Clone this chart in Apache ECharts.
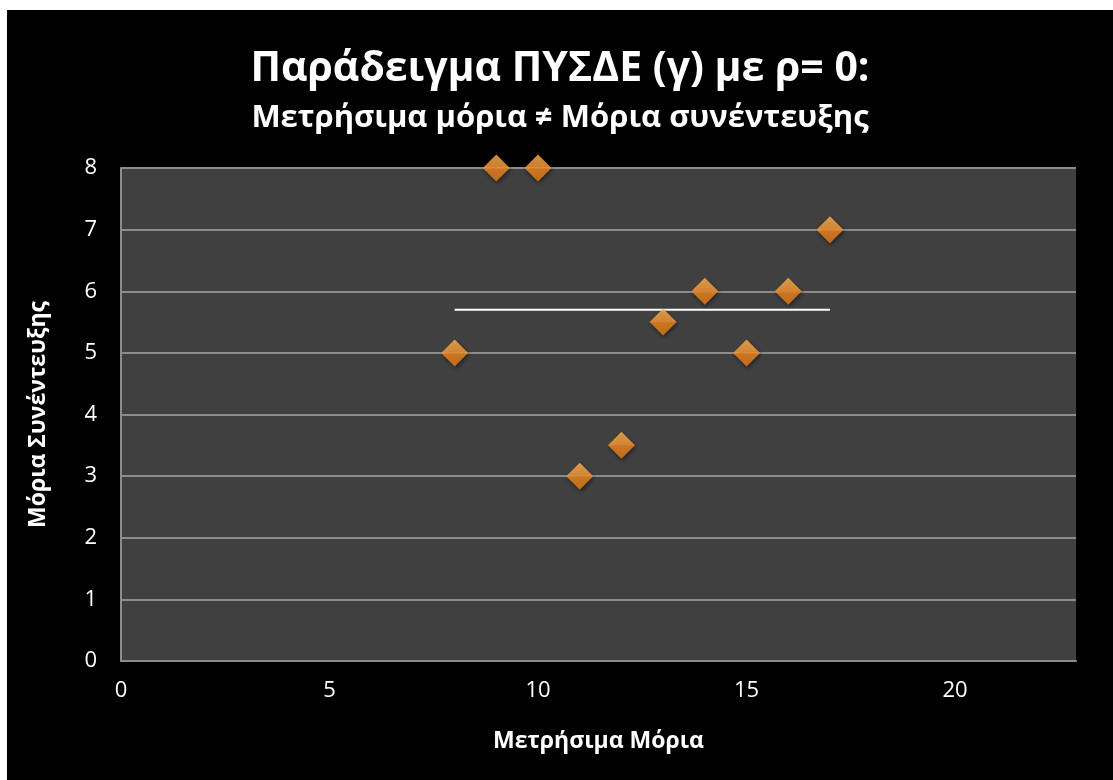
<!DOCTYPE html>
<html>
<head>
<meta charset="utf-8">
<script src="https://cdn.jsdelivr.net/npm/echarts@6/dist/echarts.min.js"></script>
<style>
  html, body { margin: 0; padding: 0; background: #fff; width: 1113px; height: 780px; overflow: hidden; }
  #chart { position: absolute; left: 7px; top: 10px; width: 1106px; height: 770px; }
</style>
</head>
<body>
<div id="chart"></div>
<script>
// measured vs interview points (x, y)
const metrisimaMoria = [8, 9, 10, 11, 12, 13, 14, 15, 16, 17];
const moriaSynenteuxis = [5, 8, 8, 3, 3.5, 5.5, 6, 5, 6, 7];
// flat trend line
const trendLine = [[8, 5.7], [17, 5.7]];
const xTicks = [0, 5, 10, 15, 20];
const yTicks = [0, 1, 2, 3, 4, 5, 6, 7, 8];

const chart = echarts.init(document.getElementById("chart"));
const font = "'Open Sans', 'Noto Sans', sans-serif";

chart.setOption({
    backgroundColor: "#000",
    animation: false,
    title: [
        {
            text: "Παράδειγμα ΠΥΣΔΕ (γ) με ρ= 0:",
            left: "center",
            top: 34,
            textStyle: { color: "#fff", fontFamily: font, fontWeight: "bold", fontSize: 41 },
        },
        {
            text: "Μετρήσιμα μόρια ≠ Μόρια συνέντευξης",
            left: "center",
            top: 88,
            textStyle: { color: "#fff", fontFamily: font, fontWeight: "bold", fontSize: 31 },
        },
    ],
    grid: {
        left: 114,
        right: 37,
        top: 158,
        bottom: 119,
        show: true,
        backgroundColor: "#404040",
        borderWidth: 0,
    },
    xAxis: {
        type: "value",
        min: 0,
        max: 22.9,
        interval: 5,
        name: "Μετρήσιμα Μόρια",
        nameLocation: "middle",
        nameGap: 69,
        nameTextStyle: { color: "#fff", fontFamily: font, fontWeight: "bold", fontSize: 23 },
        axisLine: { show: true, lineStyle: { color: "#8c8c8c", width: 2 } },
        axisTick: { show: false },
        splitLine: { show: false },
        axisLabel: {
            color: "#fff",
            fontFamily: font,
            fontSize: 22,
            margin: 19,
            showMaxLabel: false,
            formatter: (v) => (xTicks.includes(v) ? String(v) : ""),
        },
    },
    yAxis: {
        type: "value",
        min: 0,
        max: 8,
        interval: 1,
        name: "Μόρια Συνέντευξης",
        nameLocation: "middle",
        nameGap: 71,
        nameTextStyle: { color: "#fff", fontFamily: font, fontWeight: "bold", fontSize: 23 },
        axisLine: { show: true, lineStyle: { color: "#8c8c8c", width: 2 } },
        axisTick: { show: false },
        splitLine: { show: true, lineStyle: { color: "#8c8c8c", width: 2 } },
        axisLabel: {
            color: "#fff",
            fontFamily: font,
            fontSize: 22,
            margin: 24,
            formatter: (v) => (yTicks.includes(v) ? String(v) : ""),
        },
    },
    series: [
        {
            type: "line",
            data: trendLine,
            symbol: "none",
            lineStyle: { color: "#fff", width: 2 },
            z: 2,
        },
        {
            type: "scatter",
            data: metrisimaMoria.map((x, i) => [x, moriaSynenteuxis[i]]),
            symbol: "diamond",
            symbolSize: [27, 27],
            itemStyle: {
                color: new echarts.graphic.LinearGradient(0, 0, 0, 1, [
                    { offset: 0, color: "#ffb552" },
                    { offset: 0.5, color: "#ff9d38" },
                    { offset: 0.51, color: "#f58c22" },
                    { offset: 1, color: "#e67c18" },
                ]),
                shadowColor: "rgba(0,0,0,0.6)",
                shadowBlur: 4,
                shadowOffsetX: 1,
                shadowOffsetY: 2,
            },
            z: 3,
        },
    ],
});
</script>
</body>
</html>
